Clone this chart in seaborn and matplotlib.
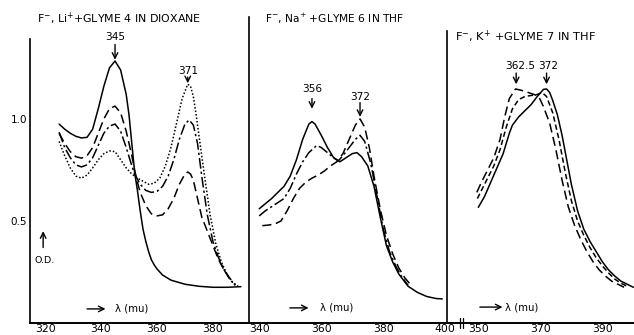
import numpy as np
import pandas as pd
import matplotlib
matplotlib.use("Agg")
import matplotlib.pyplot as plt
import seaborn as sns

# ---------------- data ----------------
# Panel 1: F-, Li+ + glyme 4 in dioxane
p1_solid_x = [325, 327, 329, 331, 333, 335, 337, 339, 341, 343, 345, 347, 349, 350, 351, 352, 353, 354, 355, 356, 357, 358, 359, 360, 362, 365, 370, 375, 380, 385, 390]
p1_solid_y = [0.975, 0.95, 0.93, 0.915, 0.907, 0.91, 0.95, 1.05, 1.16, 1.25, 1.284, 1.24, 1.12, 1.02, 0.88, 0.74, 0.65, 0.55, 0.46, 0.40, 0.35, 0.31, 0.285, 0.265, 0.235, 0.21, 0.19, 0.18, 0.175, 0.175, 0.178]

p1_dash_x = [325, 327, 329, 331, 333, 335, 337, 339, 341, 343, 345, 347, 349, 351, 352, 353, 354, 356, 358, 360, 362, 364, 366, 368, 370, 371, 372, 373, 374, 375, 376, 378, 380, 382, 384, 386, 388]
p1_dash_y = [0.93, 0.88, 0.84, 0.815, 0.808, 0.82, 0.86, 0.93, 1.00, 1.05, 1.063, 1.03, 0.94, 0.82, 0.75, 0.69, 0.64, 0.575, 0.535, 0.525, 0.53, 0.56, 0.61, 0.68, 0.73, 0.74, 0.73, 0.70, 0.64, 0.58, 0.52, 0.45, 0.38, 0.31, 0.26, 0.22, 0.185]

p1_dashdot_x = [325, 327, 329, 331, 333, 335, 337, 339, 341, 343, 345, 347, 349, 351, 352, 354, 356, 358, 360, 362, 364, 366, 368, 370, 371.5, 373, 374.5, 376, 378, 380, 382, 384, 386, 388]
p1_dashdot_y = [0.935, 0.86, 0.81, 0.775, 0.765, 0.775, 0.81, 0.87, 0.93, 0.965, 0.975, 0.94, 0.86, 0.77, 0.73, 0.68, 0.65, 0.64, 0.645, 0.67, 0.72, 0.80, 0.90, 0.975, 0.995, 0.97, 0.88, 0.72, 0.53, 0.40, 0.32, 0.26, 0.215, 0.185]

p1_dot_x = [325, 327, 329, 331, 333, 335, 337, 339, 341, 343, 345, 347, 349, 351, 353, 355, 357, 359, 361, 363, 365, 367, 369, 371, 372, 373, 374, 375, 377, 379, 381, 383, 385, 387, 389]
p1_dot_y = [0.89, 0.82, 0.76, 0.72, 0.71, 0.725, 0.76, 0.80, 0.83, 0.843, 0.84, 0.80, 0.76, 0.73, 0.71, 0.695, 0.68, 0.685, 0.71, 0.77, 0.86, 0.98, 1.10, 1.17, 1.16, 1.11, 1.02, 0.92, 0.72, 0.53, 0.39, 0.30, 0.24, 0.20, 0.18]

# Panel 2: F-, Na+ + glyme 6 in THF
p2_solid_x = [340, 342, 344, 346, 348, 350, 352, 354, 356, 357, 358, 360, 362, 364, 366, 368, 370, 371.5, 373, 375, 377, 379, 381, 383, 385, 388, 391, 394, 397, 399]
p2_solid_y = [0.56, 0.585, 0.61, 0.64, 0.67, 0.72, 0.80, 0.90, 0.975, 0.987, 0.975, 0.92, 0.86, 0.81, 0.79, 0.81, 0.83, 0.835, 0.815, 0.77, 0.67, 0.52, 0.38, 0.30, 0.24, 0.18, 0.15, 0.13, 0.12, 0.118]

p2_dashdot_x = [340, 342, 344, 346, 348, 350, 352, 354, 356, 358.5, 360, 362, 364, 365.5, 367, 369, 371, 372.5, 374, 376, 378, 380, 382, 384, 386, 388]
p2_dashdot_y = [0.525, 0.55, 0.57, 0.59, 0.61, 0.66, 0.73, 0.79, 0.835, 0.87, 0.86, 0.835, 0.81, 0.795, 0.82, 0.86, 0.90, 0.92, 0.89, 0.78, 0.62, 0.46, 0.35, 0.28, 0.225, 0.185]

p2_dash_x = [341, 343, 345, 347, 349, 351, 353, 355, 357, 359, 361, 363, 365, 367, 369, 371, 372.5, 374, 375.5, 377, 379, 381, 383, 385, 387, 389]
p2_dash_y = [0.477, 0.48, 0.485, 0.50, 0.55, 0.61, 0.66, 0.69, 0.71, 0.725, 0.745, 0.77, 0.79, 0.83, 0.90, 0.97, 1.00, 0.96, 0.86, 0.72, 0.56, 0.43, 0.34, 0.27, 0.22, 0.185]

# Panel 3: F-, K+ + glyme 7 in THF
p3_solid_x = [350, 352, 354, 356, 358, 360, 361, 363, 365, 367, 369, 371, 372, 373, 374, 375.5, 377, 378.5, 380, 382, 384, 386, 388, 390, 392, 394, 396, 398, 400]
p3_solid_y = [0.567, 0.62, 0.69, 0.76, 0.83, 0.93, 0.97, 1.01, 1.04, 1.07, 1.11, 1.145, 1.147, 1.13, 1.09, 1.02, 0.92, 0.80, 0.68, 0.55, 0.46, 0.40, 0.35, 0.30, 0.26, 0.23, 0.205, 0.19, 0.175]

p3_mid_x = [349.7, 351, 353, 355, 357, 359, 361, 363, 365, 367, 369, 370.5, 372, 374, 376, 378, 380, 382, 384, 386, 388, 390, 392, 394, 396, 398]
p3_mid_y = [0.61, 0.65, 0.71, 0.77, 0.85, 0.96, 1.05, 1.095, 1.11, 1.115, 1.12, 1.13, 1.11, 1.03, 0.90, 0.74, 0.60, 0.50, 0.43, 0.37, 0.32, 0.28, 0.245, 0.215, 0.195, 0.18]

p3_dash_x = [349.5, 351, 353, 355, 357, 358.5, 360, 362, 364, 366, 368, 369.5, 371, 373, 375, 377, 379, 381, 383, 385, 387, 389, 391, 393, 395, 397]
p3_dash_y = [0.64, 0.69, 0.75, 0.81, 0.90, 1.01, 1.10, 1.147, 1.14, 1.13, 1.12, 1.11, 1.06, 0.98, 0.85, 0.70, 0.57, 0.48, 0.41, 0.35, 0.30, 0.26, 0.23, 0.205, 0.19, 0.175]

p1_xticks = [320, 340, 360, 380]
p2_xticks = [340, 360, 380, 400]
p3_xticks = [350, 360, 370, 380, 390]
p3_xticklabels = ["350", "", "370", "", "390"]
yticks = [0.5, 1.0]
ytick_labels = ["0.5", "1.0"]

titles = ["F$^{-}$, Li$^{+}$+GLYME 4 IN DIOXANE",
          "F$^{-}$, Na$^{+}$ +GLYME 6 IN THF",
          "F$^{-}$, K$^{+}$ +GLYME 7 IN THF"]

# ---------------- styling ----------------
sns.set_style("white")
plt.rcParams['font.family'] = ['DejaVu Sans']
plt.rcParams['mathtext.default'] = 'regular'
plt.rcParams['text.color'] = 'black'
plt.rcParams['xtick.color'] = 'black'
plt.rcParams['ytick.color'] = 'black'

W, H = 634, 335
fig = plt.figure(figsize=(W / 100, H / 100), dpi=100)
YMAX = 1.583
bot = (H - 323) / H
hgt = 323 / H

ax1 = fig.add_axes([30 / W, bot, (249 - 30) / W, hgt])
ax2 = fig.add_axes([249 / W, bot, (446.7 - 249) / W, hgt])
ax3 = fig.add_axes([446.7 / W, bot, (634 - 446.7) / W, hgt])

ax1.set_xlim(314.6, 392.9)
ax2.set_xlim(336.7, 400.45)
ax3.set_xlim(339.8, 400.2)

LS_DASH = (0, (6, 3))
LS_DASHDOT = (0, (7, 2, 1.5, 2))
LS_DOT = (0, (1, 1.3))
LS_SHORT = (0, (3.5, 2))
lw = 1.1

def draw(ax, x, y, ls):
    df = pd.DataFrame({"x": x, "y": y})
    sns.lineplot(data=df, x="x", y="y", ax=ax, color="black", lw=lw,
                 linestyle=ls, estimator=None, sort=False)

draw(ax1, p1_solid_x, p1_solid_y, "-")
draw(ax1, p1_dash_x, p1_dash_y, LS_DASH)
draw(ax1, p1_dashdot_x, p1_dashdot_y, LS_DASHDOT)
draw(ax1, p1_dot_x, p1_dot_y, LS_DOT)

draw(ax2, p2_solid_x, p2_solid_y, "-")
draw(ax2, p2_dashdot_x, p2_dashdot_y, LS_DASHDOT)
draw(ax2, p2_dash_x, p2_dash_y, LS_DASH)

draw(ax3, p3_solid_x, p3_solid_y, "-")
draw(ax3, p3_mid_x, p3_mid_y, LS_SHORT)
draw(ax3, p3_dash_x, p3_dash_y, LS_DASH)

spine_tops = [1.39, 1.50, 1.43]
for ax, top in zip([ax1, ax2, ax3], spine_tops):
    ax.set_ylim(0, YMAX)
    ax.set_xlabel("")
    ax.set_ylabel("")
    for s in ["top", "right"]:
        ax.spines[s].set_visible(False)
    ax.spines["left"].set_bounds(0, top)
    ax.spines["left"].set_linewidth(1.2)
    ax.spines["bottom"].set_linewidth(1.4)
    ax.spines["left"].set_color("black")
    ax.spines["bottom"].set_color("black")
    ax.set_yticks(yticks)
    ax.tick_params(axis="y", direction="in", length=6, width=1.3, colors="black", labelsize=7.5, pad=2)
    ax.tick_params(axis="x", direction="in", length=3, width=1.0, colors="black", labelsize=7.8, pad=1)
    ax.patch.set_alpha(0)

ax1.set_yticklabels(ytick_labels)
ax2.set_yticklabels([])
ax3.set_yticklabels([])

ax1.set_xticks(p1_xticks)
ax1.set_xticklabels([str(v) for v in p1_xticks])
ax2.set_xticks(p2_xticks)
ax2.set_xticklabels([str(v) for v in p2_xticks])
ax3.set_xticks(p3_xticks)
ax3.set_xticklabels(p3_xticklabels)

# axis break marks on panel 3
for xb in [344.1, 345.0]:
    ax3.plot([xb, xb], [-0.015, 0.015], transform=ax3.get_xaxis_transform(),
             color="black", lw=0.9, clip_on=False)

# titles
ax1.text(317.1, 1.49, titles[0], fontsize=7.9, va="center", ha="left", color="black")
ax2.text(341.8, 1.49, titles[1], fontsize=7.7, va="center", ha="left", color="black")
ax3.text(342.5, 1.40, titles[2], fontsize=8.2, va="center", ha="left", color="black")

# peak labels with arrows
arrow_kw = dict(arrowstyle="->", color="black", lw=1.0, shrinkA=0, shrinkB=0)
def peak(ax, label, x, ytext, ytail, ytip, xtext=None):
    ax.text(x if xtext is None else xtext, ytext, label, fontsize=7.6, ha="center", va="center", color="black")
    ax.annotate("", xy=(x, ytip), xytext=(x, ytail), arrowprops=arrow_kw)

peak(ax1, "345", 345, 1.402, 1.365, 1.29)
peak(ax1, "371", 371, 1.235, 1.205, 1.175)
peak(ax2, "356", 357, 1.147, 1.10, 1.05)
peak(ax2, "372", 372.5, 1.108, 1.08, 1.01)
peak(ax3, "362.5", 362.2, 1.26, 1.225, 1.17, xtext=363.5)
peak(ax3, "372", 372, 1.26, 1.225, 1.17, xtext=372.6)

# O.D. label
ax1.annotate("", xy=(319.3, 0.45), xytext=(319.3, 0.37), arrowprops=arrow_kw)
ax1.text(320.0, 0.304, "O.D.", fontsize=6.8, ha="center", va="center", color="black")

# wavelength labels
for ax, xa0, xa1, xt, yv in [(ax1, 335.0, 341.6, 345.0, 0.069),
                              (ax2, 349.9, 355.9, 359.6, 0.074),
                              (ax3, 350.5, 357.8, 358.6, 0.078)]:
    ax.annotate("", xy=(xa1, yv), xytext=(xa0, yv), arrowprops=arrow_kw)
    ax.text(xt, yv, "λ (mu)", fontsize=7.3, ha="left", va="center", color="black")

fig.savefig("out.png", dpi=100)
